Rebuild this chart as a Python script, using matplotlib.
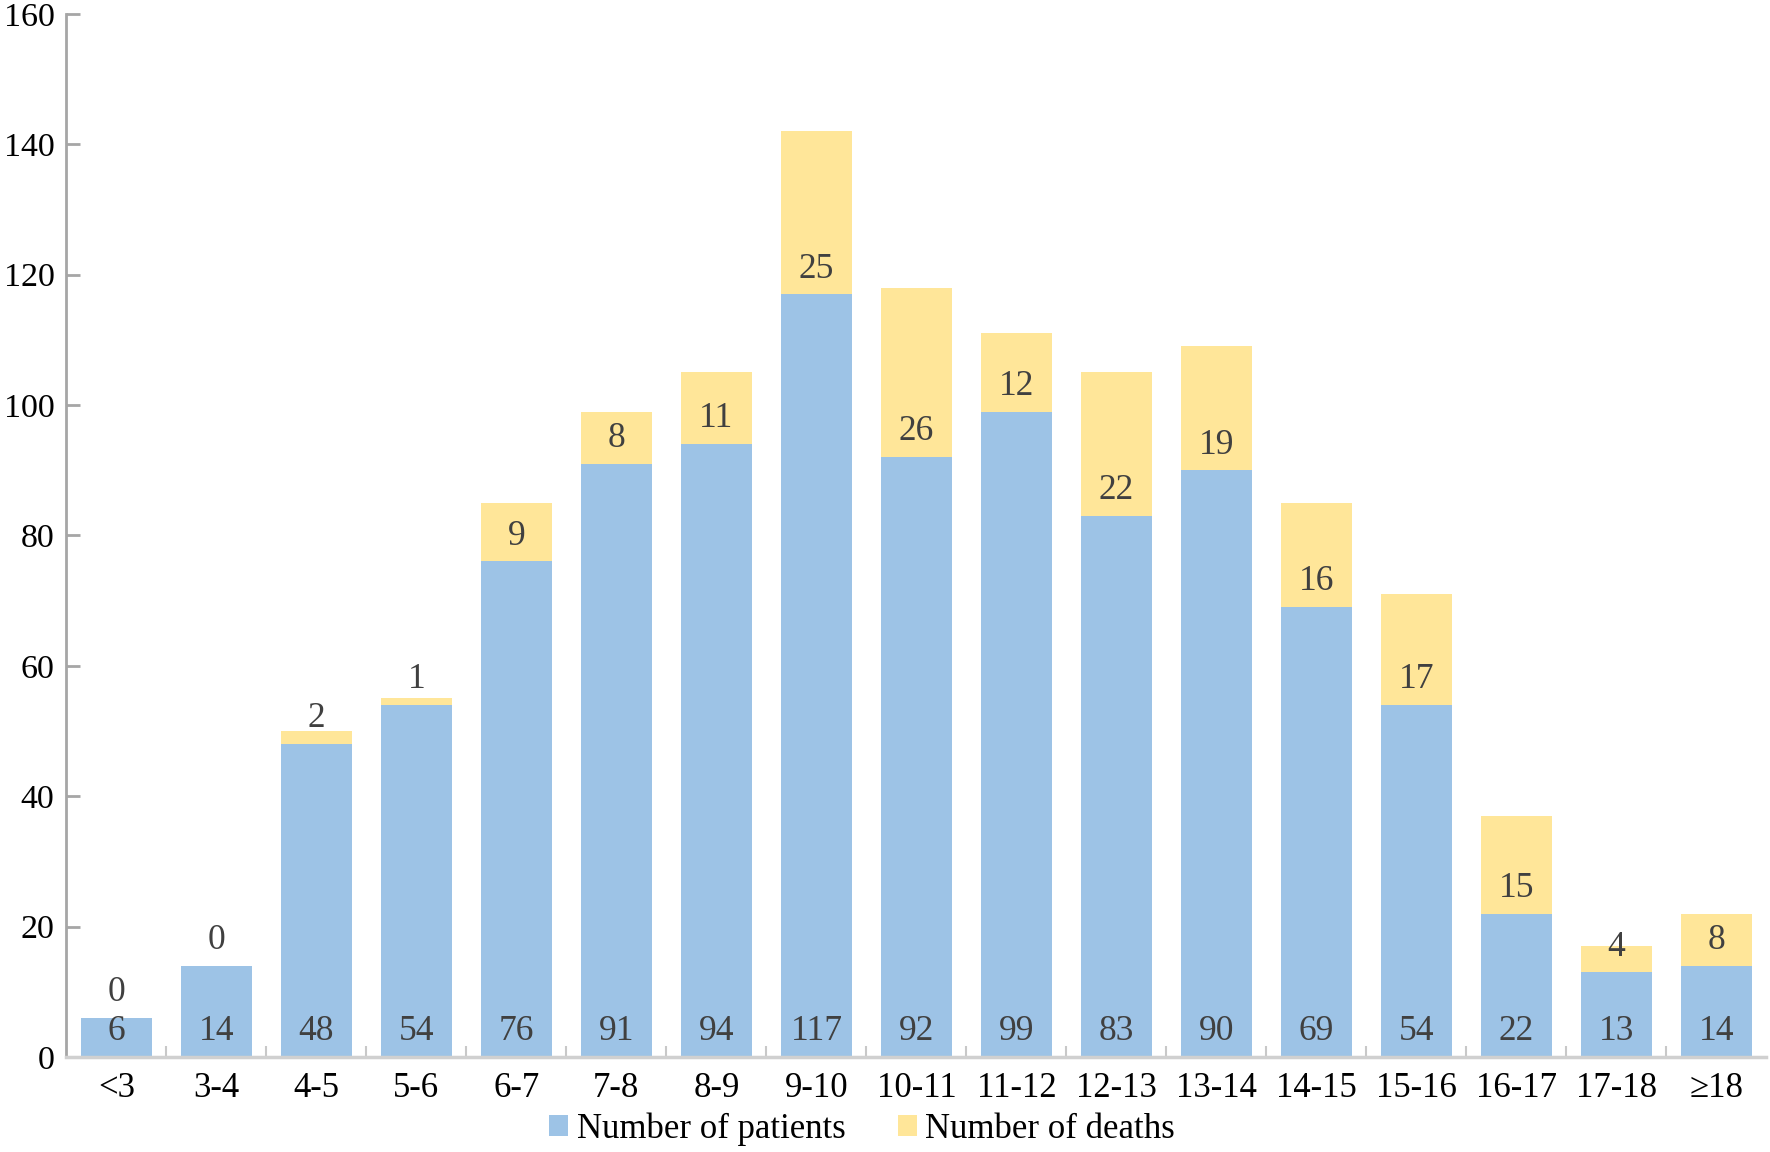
import numpy as np
import matplotlib.pyplot as plt
from matplotlib.ticker import FixedLocator

plt.rcParams['font.family'] = ['Liberation Serif', 'DejaVu Serif']

# Data
categories = ["<3", "3-4", "4-5", "5-6", "6-7", "7-8", "8-9", "9-10", "10-11",
              "11-12", "12-13", "13-14", "14-15", "15-16", "16-17", "17-18", "\u226518"]
patients = [6, 14, 48, 54, 76, 91, 94, 117, 92, 99, 83, 90, 69, 54, 22, 13, 14]
deaths = [0, 0, 2, 1, 9, 8, 11, 25, 26, 12, 22, 19, 16, 17, 15, 4, 8]

blue = "#9DC3E6"
yellow = "#FFE699"
label_color = "#404040"

fig = plt.figure(figsize=(17.7, 11.52), dpi=100)
ax = fig.add_axes([0.0375, 0.0825, 0.9605, 0.9055])

x = np.arange(len(categories))
w = 0.71
b1 = ax.bar(x, patients, w, color=blue, label="Number of patients")
b2 = ax.bar(x, deaths, w, bottom=patients, color=yellow, label="Number of deaths")

# labels sit just above the base of each segment
for xi, p, d in zip(x, patients, deaths):
    ax.annotate(str(p), (xi, 0), xytext=(0, 12), textcoords="offset points",
                ha="center", va="baseline", fontsize=25.5, color=label_color)
    ax.annotate(str(d), (xi, p), xytext=(0, 12), textcoords="offset points",
                ha="center", va="baseline", fontsize=25.5, color=label_color)

ax.set_xlim(-0.5, len(categories) - 0.5)
ax.set_ylim(0, 160)
ax.set_yticks(np.arange(0, 161, 20))
ax.set_xticks(x)
ax.set_xticklabels(categories)
ax.xaxis.set_minor_locator(FixedLocator(np.arange(0.5, len(categories) - 0.5, 1)))

for s in ["top", "right"]:
    ax.spines[s].set_visible(False)
ax.spines["left"].set_color("#A6A6A6")
ax.spines["left"].set_linewidth(2)
ax.spines["bottom"].set_color("#D0D0D0")
ax.spines["bottom"].set_linewidth(2.5)

ax.tick_params(axis="y", direction="in", length=10, width=2, color="#A6A6A6",
               labelsize=24.5, pad=8.5)
ax.tick_params(axis="x", which="major", length=0, labelsize=25, pad=11)
ax.tick_params(axis="x", which="minor", direction="in", length=8, width=1.5,
               color="#C8C8C8")

fig.legend(handles=[b1, b2], loc="center", bbox_to_anchor=(0.487, 0.02), ncol=2,
           frameon=False, fontsize=25, handlelength=0.55, handleheight=0.55,
           handletextpad=0.25, columnspacing=1.5, borderaxespad=0)

fig.savefig("out.png", dpi=100)
